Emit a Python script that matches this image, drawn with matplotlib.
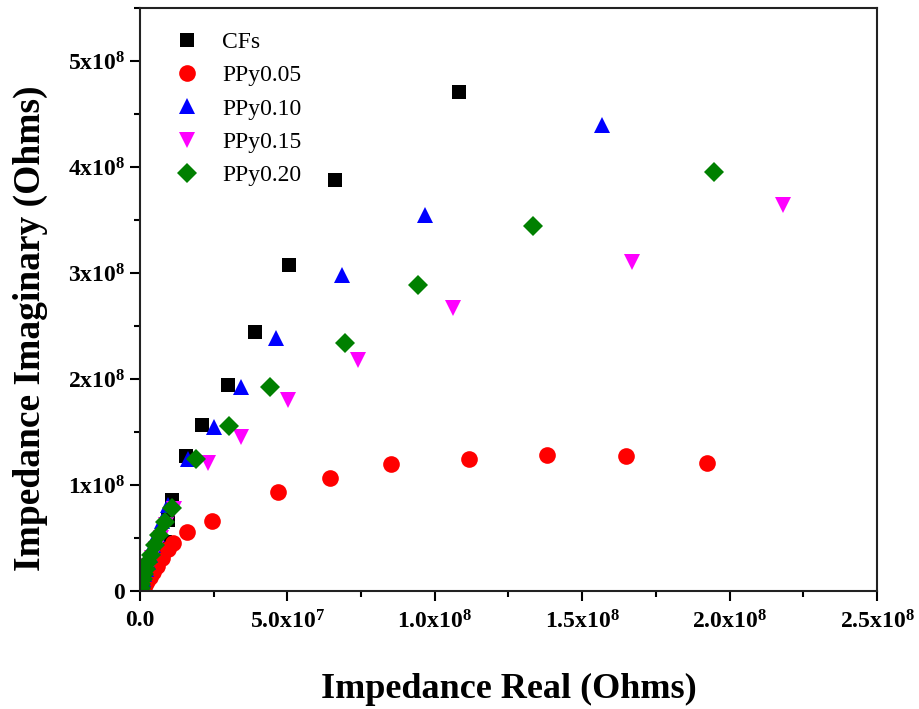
import matplotlib
matplotlib.use("Agg")
import matplotlib.pyplot as plt
from matplotlib.ticker import MultipleLocator

plt.rcParams["font.family"] = ["Liberation Serif", "DejaVu Serif"]
plt.rcParams["mathtext.default"] = "regular"

# Nyquist data (values in 1e8 Ohms)
cfs_re = [1.082, 0.660, 0.507, 0.391, 0.299, 0.211, 0.155, 0.109, 0.095, 0.085, 0.068,
          0.053, 0.040, 0.029, 0.020, 0.012, 0.006, 0.003]
cfs_im = [4.71, 3.88, 3.08, 2.44, 1.94, 1.57, 1.27, 0.86, 0.67, 0.46, 0.36,
          0.28, 0.21, 0.15, 0.10, 0.06, 0.03, 0.01]

p05_re = [1.925, 1.650, 1.381, 1.116, 0.850, 0.643, 0.469, 0.245, 0.160, 0.112, 0.095,
          0.075, 0.058, 0.045, 0.035, 0.025, 0.017, 0.010, 0.005]
p05_im = [1.21, 1.27, 1.28, 1.25, 1.20, 1.07, 0.93, 0.66, 0.56, 0.45, 0.40,
          0.31, 0.24, 0.18, 0.13, 0.09, 0.06, 0.03, 0.012]

p10_re = [1.568, 0.966, 0.684, 0.463, 0.344, 0.252, 0.163, 0.095, 0.075, 0.058, 0.045,
          0.035, 0.027, 0.020, 0.015, 0.010, 0.006, 0.003, 0.001]
p10_im = [4.40, 3.55, 2.98, 2.39, 1.92, 1.55, 1.25, 0.81, 0.66, 0.54, 0.43,
          0.34, 0.27, 0.21, 0.16, 0.11, 0.07, 0.035, 0.01]

p15_re = [2.180, 1.670, 1.061, 0.738, 0.503, 0.344, 0.231, 0.115, 0.090, 0.070, 0.055,
          0.042, 0.032, 0.024, 0.017, 0.011, 0.006, 0.003]
p15_im = [3.64, 3.10, 2.67, 2.18, 1.80, 1.45, 1.21, 0.77, 0.62, 0.50, 0.40,
          0.31, 0.24, 0.18, 0.13, 0.085, 0.05, 0.02]

p20_re = [1.946, 1.333, 0.942, 0.697, 0.442, 0.303, 0.190, 0.109, 0.085, 0.066, 0.050,
          0.038, 0.028, 0.020, 0.014, 0.009, 0.005, 0.002, 0.001]
p20_im = [3.95, 3.44, 2.89, 2.34, 1.92, 1.56, 1.25, 0.78, 0.65, 0.53, 0.43,
          0.34, 0.27, 0.21, 0.16, 0.11, 0.07, 0.03, 0.01]

x_ticks = [0, 0.5e8, 1.0e8, 1.5e8, 2.0e8, 2.5e8]
x_labels = ["0.0", "5.0x10$^{7}$", "1.0x10$^{8}$", "1.5x10$^{8}$", "2.0x10$^{8}$", "2.5x10$^{8}$"]
y_ticks = [0, 1e8, 2e8, 3e8, 4e8, 5e8]
y_labels = ["0", "1x10$^{8}$", "2x10$^{8}$", "3x10$^{8}$", "4x10$^{8}$", "5x10$^{8}$"]

series = [
    ("CFs", cfs_re, cfs_im, "s", "black", 10),
    ("PPy0.05", p05_re, p05_im, "o", "red", 12),
    ("PPy0.10", p10_re, p10_im, "^", "blue", 12),
    ("PPy0.15", p15_re, p15_im, "v", "magenta", 12),
    ("PPy0.20", p20_re, p20_im, "D", "green", 10),
]

fig = plt.figure(figsize=(9.19, 7.09), dpi=100)
ax = fig.add_axes([0.1523, 0.1664, 0.802, 0.8223])

for name, xr, yi, mk, col, ms in series:
    ax.plot([v * 1e8 for v in xr], [v * 1e8 for v in yi], linestyle="none",
            marker=mk, color=col, markersize=ms, label=name, markeredgewidth=0)

ax.set_xlim(0, 2.5e8)
ax.set_ylim(0, 5.5e8)
ax.set_xticks(x_ticks)
ax.set_xticklabels(x_labels)
ax.set_yticks(y_ticks)
ax.set_yticklabels(y_labels)
ax.xaxis.set_minor_locator(MultipleLocator(0.25e8))
ax.yaxis.set_minor_locator(MultipleLocator(0.5e8))
ax.tick_params(which="major", direction="out", length=7, width=1.5, labelsize=17, pad=4)
ax.tick_params(which="minor", direction="out", length=4.5, width=1.5)
ax.tick_params(axis="x", which="major", pad=7)
for lab in ax.get_xticklabels() + ax.get_yticklabels():
    lab.set_fontweight("bold")
for sp in ax.spines.values():
    sp.set_linewidth(1.5)
    sp.set_color("#222")

ax.set_xlabel("Impedance Real (Ohms)", fontsize=26, fontweight="bold", labelpad=28)
ax.set_ylabel("Impedance Imaginary (Ohms)", fontsize=27, fontweight="bold")
ax.yaxis.set_label_coords(-0.125, 0.45)

ax.legend(loc="upper left", bbox_to_anchor=(0.035, 0.976), frameon=False, fontsize=17,
          handlelength=1.0, handletextpad=1.0, labelspacing=0.5, borderaxespad=0.0)

fig.savefig("out.png")
